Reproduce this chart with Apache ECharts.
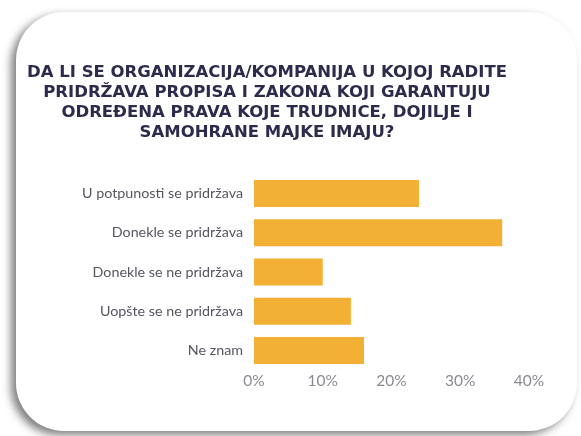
<!DOCTYPE html>
<html>
<head>
<meta charset="utf-8">
<script src="https://cdn.jsdelivr.net/npm/echarts@6/dist/echarts.min.js"></script>
<style>
  html, body { margin: 0; padding: 0; background: #fff; }
  #chart { width: 581px; height: 436px; }
</style>
</head>
<body>
<div id="chart"></div>
<script>
const titleText = 'DA LI SE ORGANIZACIJA/KOMPANIJA U KOJOJ RADITE\nPRIDRŽAVA PROPISA I ZAKONA KOJI GARANTUJU\nODREĐENA PRAVA KOJE TRUDNICE, DOJILJE I\nSAMOHRANE MAJKE IMAJU?';
const categories = ['U potpunosti se pridržava', 'Donekle se pridržava', 'Donekle se ne pridržava', 'Uopšte se ne pridržava', 'Ne znam'];
const values = [24, 36.1, 10, 14.1, 16];
const xTicks = [0, 10, 20, 30, 40];

const chart = echarts.init(document.getElementById('chart'));

chart.setOption({
  animation: false,
  graphic: [{
    type: 'rect',
    z: -10,
    shape: { x: 16, y: 12, width: 561, height: 419, r: 48 },
    style: {
      fill: '#fff',
      shadowBlur: 9,
      shadowOffsetX: -5,
      shadowOffsetY: 4,
      shadowColor: 'rgba(0,0,0,0.5)'
    }
  }],
  title: {
    text: titleText,
    left: 262,
    top: 58,
    textAlign: 'center',
    textStyle: {
      fontFamily: 'DejaVu Sans',
      fontWeight: 'bold',
      fontSize: 16.5,
      lineHeight: 20,
      color: '#2d2b4c'
    }
  },
  grid: { left: 254, right: 52, top: 174, bottom: 66 },
  xAxis: {
    type: 'value',
    min: xTicks[0],
    max: xTicks[xTicks.length - 1],
    interval: 10,
    axisLine: { show: false },
    axisTick: { show: false },
    splitLine: { show: false },
    axisLabel: {
      formatter: '{value}%',
      color: '#8a8a92',
      fontFamily: 'Lato',
      fontSize: 15.5,
      margin: 3
    }
  },
  yAxis: {
    type: 'category',
    data: categories,
    inverse: true,
    axisLine: { show: false },
    axisTick: { show: false },
    axisLabel: {
      color: '#55555f',
      fontFamily: 'Lato',
      fontSize: 14.3,
      margin: 11
    }
  },
  series: [{
    type: 'bar',
    data: values,
    barCategoryGap: '31%',
    itemStyle: { color: '#f2b134' }
  }]
});
</script>
</body>
</html>
